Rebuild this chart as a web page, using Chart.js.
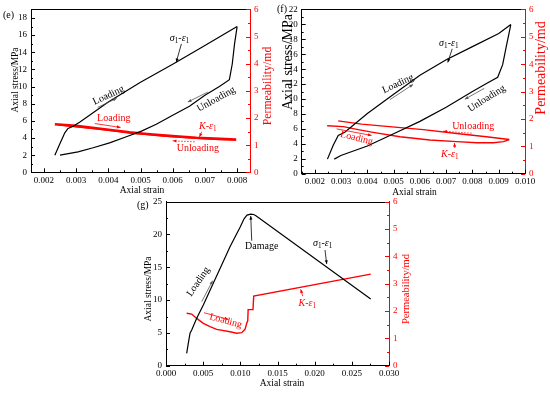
<!DOCTYPE html>
<html>
<head>
<meta charset="utf-8">
<script src="https://cdn.jsdelivr.net/npm/chart.js@4"></script>
<style>
  body { margin: 0; background: #fff; width: 550px; height: 393px; position: relative; overflow: hidden; }
  canvas { position: absolute; }
</style>
</head>
<body>
<canvas id="cE" width="275" height="197" style="left:0;top:0"></canvas>
<canvas id="cF" width="275" height="197" style="left:275px;top:0"></canvas>
<canvas id="cG" width="290" height="203" style="left:130px;top:190px"></canvas>
<script>
// --- (e) ciclo carga / descarga ---
const eLoadStrain   = [0.00234, 0.0025, 0.00265, 0.00275, 0.00291, 0.00312, 0.004, 0.005, 0.006, 0.007, 0.008];
const eLoadStress   = [2.0, 3.37, 4.6, 5.11, 5.38, 5.88, 8.2, 10.5, 12.6, 14.8, 17.0];
const eUnloadStrain = [0.008, 0.00792, 0.00785, 0.00776, 0.00745, 0.007, 0.00652, 0.006, 0.00549, 0.00503, 0.00456, 0.00404, 0.00353, 0.00306, 0.0025];
const eUnloadStress = [17.0, 14.98, 12.66, 10.8, 10.02, 8.98, 7.7, 6.65, 5.61, 4.8, 4.14, 3.44, 2.86, 2.39, 2.01];
const eKLoadStrain   = [0.00234, 0.003, 0.00363, 0.0042, 0.00466, 0.0052, 0.00569, 0.0062, 0.00673, 0.0073, 0.00797];
const eKLoad         = [1.77, 1.71, 1.62, 1.54, 1.47, 1.41, 1.36, 1.32, 1.27, 1.24, 1.21];
const eKUnloadStrain = [0.00797, 0.0073, 0.0066, 0.006, 0.0054, 0.0048, 0.0042, 0.0036, 0.003, 0.00245];
const eKUnload       = [1.19, 1.22, 1.26, 1.31, 1.37, 1.44, 1.52, 1.6, 1.68, 1.75];

// --- (f) ---
const fLoadStrain   = [0.00248, 0.0027, 0.00289, 0.00314, 0.004, 0.005, 0.006, 0.007, 0.008, 0.009, 0.00946];
const fLoadStress   = [1.95, 3.8, 5.12, 5.56, 8.07, 10.63, 13.19, 15.26, 17.02, 18.78, 19.97];
const fUnloadStrain = [0.00946, 0.0093, 0.00915, 0.00896, 0.0085, 0.008, 0.007, 0.006, 0.005, 0.004, 0.00299, 0.00274];
const fUnloadStress = [19.97, 17.25, 14.6, 12.92, 12.0, 11.0, 8.9, 7.01, 5.34, 3.7, 2.43, 1.95];
const fKLoadStrain   = [0.00247, 0.00309, 0.0036, 0.00422, 0.00524, 0.00638, 0.0074, 0.00816, 0.0088, 0.00918, 0.0094];
const fKLoad         = [1.75, 1.72, 1.62, 1.51, 1.35, 1.23, 1.17, 1.13, 1.13, 1.17, 1.25];
const fKUnloadStrain = [0.0094, 0.00853, 0.0074, 0.00613, 0.00505, 0.00378, 0.00289];
const fKUnload       = [1.25, 1.35, 1.47, 1.61, 1.70, 1.81, 1.93];

// --- (g) carga hasta el daño ---
const gStrain = [0.00278, 0.003, 0.00323, 0.00346, 0.00413, 0.00502, 0.00636, 0.00749, 0.00861, 0.01, 0.0105, 0.0109, 0.0114, 0.0118, 0.0121, 0.02754];
const gStress = [1.89, 3.41, 4.94, 5.44, 7.23, 9.25, 12.56, 15.35, 18.14, 21.19, 22.4, 22.95, 23.1, 23.05, 22.87, 10.17];
const gKStrain = [0.00278, 0.00346, 0.00413, 0.00502, 0.00592, 0.00682, 0.00861, 0.00951, 0.01018, 0.01063, 0.01086, 0.011, 0.01105, 0.0115, 0.0117, 0.0118, 0.02754];
const gK       = [1.92, 1.89, 1.73, 1.55, 1.43, 1.33, 1.24, 1.19, 1.21, 1.33, 1.55, 1.65, 2.05, 2.05, 2.05, 2.55, 3.35];

// rangos de ejes [min, max, paso mayor, paso menor]
const eX = [0.0016, 0.0084, 0.001, 0.0005], eY = [0, 19, 2, 1], eK = [0, 6, 1, 0.5];
const fX = [0.0015, 0.010, 0.001, 0.0005], fY = [0, 22, 2, 1], fK = [0, 6, 1, 0.5];
const gX = [0, 0.030, 0.005, 0.0025],      gY = [0, 25, 5, 2.5], gK2 = [0, 6, 1, 0.5];

const RED = '#ff0000';
const FONT = '"Liberation Serif", "Times New Roman", serif';

const pts = (xs, ys) => xs.map((x, i) => ({ x: x, y: ys[i] }));

// Texto con subíndices / cursiva: [texto, 'i' cursiva | 's' subíndice | '']
const SIG = [['σ', 'i'], ['1', 's'], ['-', ''], ['ε', 'i'], ['1', 's']];
const KEPS = [['K', 'i'], ['-', ''], ['ε', 'i'], ['1', 's']];

function drawRich(ctx, parts, size) {
  const fontOf = p => p[1] === 'i' ? `italic ${size}px ${FONT}` : p[1] === 's' ? `${size * 0.72}px ${FONT}` : `${size}px ${FONT}`;
  let w = 0;
  parts.forEach(p => { ctx.font = fontOf(p); w += ctx.measureText(p[0]).width; });
  let x = -w / 2;
  ctx.textAlign = 'left';
  ctx.textBaseline = 'middle';
  parts.forEach(p => {
    ctx.font = fontOf(p);
    ctx.fillText(p[0], x, p[1] === 's' ? size * 0.3 : 0);
    x += ctx.measureText(p[0]).width;
  });
}

function arrow(ctx, x1, y1, x2, y2, color, dash) {
  ctx.save();
  ctx.strokeStyle = color; ctx.fillStyle = color; ctx.lineWidth = 0.8;
  if (dash) ctx.setLineDash([1.5, 1.5]);
  ctx.beginPath(); ctx.moveTo(x1, y1); ctx.lineTo(x2, y2); ctx.stroke();
  ctx.setLineDash([]);
  const a = Math.atan2(y2 - y1, x2 - x1), h = 4;
  ctx.beginPath();
  ctx.moveTo(x2, y2);
  ctx.lineTo(x2 - h * Math.cos(a - 0.4), y2 - h * Math.sin(a - 0.4));
  ctx.lineTo(x2 - h * Math.cos(a + 0.4), y2 - h * Math.sin(a + 0.4));
  ctx.closePath(); ctx.fill();
  ctx.restore();
}

// Marcas hacia dentro (mayores y menores)
function inwardTicks(ctx, scale, range, side, ca, color) {
  ctx.save();
  ctx.strokeStyle = color; ctx.lineWidth = 1;
  const [mn, mx, major, minor] = range;
  const n0 = Math.ceil(mn / minor - 1e-9), n1 = Math.floor(mx / minor + 1e-9);
  for (let n = n0; n <= n1; n++) {
    const v = n * minor;
    const isMajor = Math.abs(v / major - Math.round(v / major)) < 1e-6;
    const len = isMajor ? 4 : 2;
    const p = Math.round(scale.getPixelForValue(v)) + 0.5;
    ctx.beginPath();
    if (side === 'bottom') { ctx.moveTo(p, ca.bottom); ctx.lineTo(p, ca.bottom - len); }
    else if (side === 'left') { ctx.moveTo(ca.left, p); ctx.lineTo(ca.left + len, p); }
    else { ctx.moveTo(ca.right, p); ctx.lineTo(ca.right - len, p); }
    ctx.stroke();
  }
  ctx.restore();
}

function panelDecor(cfg) {
  return {
    id: 'decor',
    afterDraw(chart) {
      const { ctx, chartArea: ca, scales } = chart;
      ctx.save();
      // borde superior
      ctx.strokeStyle = '#000'; ctx.lineWidth = 1;
      ctx.beginPath(); ctx.moveTo(ca.left, Math.round(ca.top) + 0.5); ctx.lineTo(ca.right, Math.round(ca.top) + 0.5); ctx.stroke();
      inwardTicks(ctx, scales.x, cfg.xr, 'bottom', ca, '#000');
      inwardTicks(ctx, scales.y, cfg.yr, 'left', ca, '#000');
      inwardTicks(ctx, scales.y2, cfg.kr, 'right', ca, RED);

      // títulos de ejes
      const t = cfg.titles;
      ctx.textAlign = 'center'; ctx.textBaseline = 'middle';
      ctx.fillStyle = '#000';
      ctx.font = `${t.bottom[2]}px ${FONT}`;
      ctx.fillText('Axial strain', t.bottom[0], t.bottom[1]);
      ctx.save(); ctx.translate(t.left[0], t.left[1]); ctx.rotate(-Math.PI / 2);
      ctx.font = `${t.left[2]}px ${FONT}`; ctx.fillText('Axial stress/MPa', 0, 0); ctx.restore();
      ctx.save(); ctx.translate(t.right[0], t.right[1]); ctx.rotate(-Math.PI / 2);
      ctx.fillStyle = RED; ctx.font = `${t.right[2]}px ${FONT}`; ctx.fillText('Permeability/md', 0, 0); ctx.restore();
      ctx.textAlign = 'left';
      ctx.font = `10px ${FONT}`;
      ctx.fillText(cfg.tag[0], cfg.tag[1], cfg.tag[2]);

      // anotaciones (en coordenadas de datos del eje izquierdo)
      cfg.notes.forEach(n => {
        const px = scales.x.getPixelForValue(n.x), py = scales.y.getPixelForValue(n.y);
        ctx.save();
        ctx.translate(px, py);
        ctx.rotate((n.rot || 0) * Math.PI / 180);
        ctx.fillStyle = n.c;
        if (typeof n.t === 'string') {
          ctx.font = `10px ${FONT}`; ctx.textAlign = 'center'; ctx.textBaseline = 'middle';
          ctx.fillText(n.t, 0, 0);
        } else {
          drawRich(ctx, n.t, 10);
        }
        ctx.restore();
      });
      cfg.arrows.forEach(a => {
        arrow(ctx, scales.x.getPixelForValue(a[0]), scales.y.getPixelForValue(a[1]),
              scales.x.getPixelForValue(a[2]), scales.y.getPixelForValue(a[3]), a[4], a[5]);
      });
      ctx.restore();
    }
  };
}

function makePanel(id, cfg) {
  const tickFont = { family: FONT, size: 9 };
  const yScale = (r, pos, color, width) => ({
    type: 'linear', position: pos, min: r[0], max: r[1],
    ticks: { stepSize: r[2], includeBounds: false, autoSkip: false, padding: 4, color: color, font: tickFont },
    grid: { display: false, drawTicks: false },
    border: { color: color, width: 1 },
    afterFit: s => { s.width = width; }
  });
  return new Chart(document.getElementById(id), {
    type: 'scatter',
    data: { datasets: cfg.datasets },
    options: {
      responsive: false,
      animation: false,
      layout: { padding: { top: cfg.box[0], left: 0, right: 0, bottom: 0 } },
      plugins: { legend: { display: false }, tooltip: { enabled: false } },
      elements: { point: { radius: 0 }, line: { tension: 0 } },
      scales: {
        x: {
          type: 'linear', position: 'bottom', min: cfg.xr[0], max: cfg.xr[1],
          ticks: { stepSize: cfg.xr[2], includeBounds: false, autoSkip: false, maxRotation: 0, padding: 3,
                   color: '#000', font: tickFont, callback: v => v.toFixed(3) },
          grid: { display: false, drawTicks: false },
          border: { color: '#000', width: 1 },
          afterFit: s => { s.height = cfg.box[3]; }
        },
        y: yScale(cfg.yr, 'left', '#000', cfg.box[1]),
        y2: yScale(cfg.kr, 'right', RED, cfg.box[2])
      }
    },
    plugins: [panelDecor(cfg)]
  });
}

const black = (data, w) => ({ data: data, yAxisID: 'y', showLine: true, borderColor: '#000', borderWidth: w || 1.2, pointRadius: 0 });
const red = (data, w) => ({ data: data, yAxisID: 'y2', showLine: true, borderColor: RED, borderWidth: w || 1.4, pointRadius: 0 });

makePanel('cE', {
  box: [8, 31, 25, 24.7],
  xr: eX, yr: eY, kr: eK,
  tag: ['(e)', 3, 15],
  titles: { left: [15, 80, 9.5], right: [268, 86, 11.8], bottom: [142, 190, 9.5] },
  datasets: [
    black(pts(eLoadStrain, eLoadStress)),
    black(pts(eUnloadStrain, eUnloadStress)),
    red(pts(eKLoadStrain, eKLoad), 2.6),
    red(pts(eKUnloadStrain, eKUnload), 1.4)
  ],
  notes: [
    { t: SIG, x: 0.00621, y: 15.6, c: '#000' },
    { t: 'Loading', x: 0.00401, y: 8.97, rot: -25, c: '#000' },
    { t: 'Unloading', x: 0.00735, y: 8.51, rot: -29, c: '#000' },
    { t: 'Loading', x: 0.00417, y: 6.27, c: RED },
    { t: KEPS, x: 0.00709, y: 5.38, c: RED },
    { t: 'Unloading', x: 0.00678, y: 2.79, c: RED }
  ],
  arrows: [
    [0.00627, 14.98, 0.00611, 12.85, '#000'],
    [0.00367, 7.57, 0.00426, 8.63, '#555'],
    [0.00709, 9.36, 0.00647, 8.2, '#555'],
    [0.00358, 5.69, 0.00438, 5.23, RED],
    [0.0069, 4.72, 0.00683, 4.13, RED],
    [0.00668, 3.55, 0.006, 3.67, RED, true]
  ]
});

makePanel('cF', {
  box: [7.5, 26.7, 25, 23.3],
  xr: fX, yr: fY, kr: fK,
  tag: ['(f)', 2, 9],
  titles: { left: [13.3, 62, 14], right: [266.7, 68, 14], bottom: [139.5, 192, 9.5] },
  datasets: [
    black(pts(fLoadStrain, fLoadStress)),
    black(pts(fUnloadStrain, fUnloadStress)),
    red(pts(fKLoadStrain, fKLoad)),
    red(pts(fKUnloadStrain, fKUnload))
  ],
  notes: [
    { t: SIG, x: 0.0071, y: 17.46, c: '#000' },
    { t: 'Loading', x: 0.00517, y: 12.04, rot: -25, c: '#000' },
    { t: 'Unloading', x: 0.00854, y: 10.05, rot: -32, c: '#000' },
    { t: 'Unloading', x: 0.00803, y: 6.31, c: RED },
    { t: 'Loading', x: 0.00359, y: 4.76, rot: 14, c: RED },
    { t: KEPS, x: 0.00714, y: 2.61, c: RED }
  ],
  arrows: [
    [0.00723, 16.72, 0.00706, 14.9, '#000'],
    [0.00486, 9.92, 0.00574, 11.96, '#555'],
    [0.00845, 11.43, 0.00771, 9.97, '#555'],
    [0.00797, 5.42, 0.00689, 5.69, RED, true],
    [0.00283, 6.0, 0.00416, 5.12, RED],
    [0.00733, 3.44, 0.00731, 4.1, RED]
  ]
});

makePanel('cG', {
  box: [11.7, 36, 31, 27.3],
  xr: gX, yr: gY, kr: gK2,
  tag: ['(g)', 7, 15],
  titles: { left: [18.3, 99, 9.5], right: [276.7, 99, 10.5], bottom: [152, 193.3, 9.5] },
  datasets: [
    black(pts(gStrain, gStress)),
    red(pts(gKStrain, gK))
  ],
  notes: [
    { t: 'Damage', x: 0.01287, y: 18.14, c: '#000' },
    { t: SIG, x: 0.02108, y: 18.66, c: '#000' },
    { t: 'Loading', x: 0.00435, y: 12.8, rot: -56, c: '#000' },
    { t: 'Loading', x: 0.00803, y: 6.81, rot: 15, c: RED },
    { t: KEPS, x: 0.01901, y: 9.51, c: RED }
  ],
  arrows: [
    [0.01153, 19.05, 0.0114, 22.82, '#000'],
    [0.02139, 17.64, 0.02162, 15.5, '#000'],
    [0.0048, 9.76, 0.00628, 12.96, '#555'],
    [0.00511, 8.08, 0.00838, 7.07, RED],
    [0.01839, 10.62, 0.01812, 11.64, RED]
  ]
});
</script>
</body>
</html>
